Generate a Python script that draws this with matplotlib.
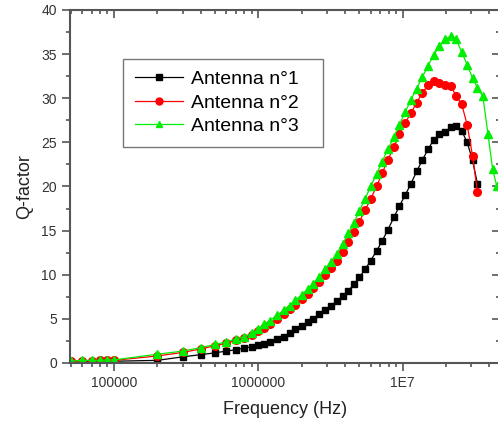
import matplotlib
matplotlib.use('Agg')
import matplotlib.pyplot as plt
from matplotlib.ticker import FixedLocator, FuncFormatter, MultipleLocator, LogLocator, NullFormatter

plt.rcParams['font.family'] = ['Liberation Sans', 'DejaVu Sans']

# Frequencies (Hz) of the measured points
freq = [5e4, 6e4, 7e4, 8e4, 9e4, 1e5, 2e5, 3e5, 4e5, 5e5, 6e5, 7e5, 8e5, 9e5,
        1.0e6, 1.1e6, 1.2e6, 1.35e6, 1.5e6, 1.65e6, 1.8e6, 2.0e6, 2.2e6, 2.4e6,
        2.65e6, 2.9e6, 3.2e6, 3.5e6, 3.85e6, 4.2e6, 4.6e6, 5.0e6, 5.5e6, 6.0e6,
        6.6e6, 7.2e6, 7.9e6, 8.7e6, 9.5e6, 10.4e6, 11.4e6, 12.5e6, 13.7e6, 15.0e6,
        16.4e6, 18.0e6, 19.7e6, 21.5e6, 23.5e6, 25.7e6, 28.0e6, 30.5e6, 33.0e6,
        36.0e6, 39.0e6, 42.0e6, 45.0e6]

q_ant1 = [0.1, 0.15, 0.15, 0.2, 0.2, 0.2, 0.3, 0.7, 0.95, 1.15, 1.35, 1.5, 1.7, 1.85,
          2.0, 2.2, 2.4, 2.7, 3.0, 3.4, 3.8, 4.2, 4.6, 5.0, 5.5, 6.0, 6.5, 7.0, 7.6,
          8.2, 8.9, 9.7, 10.6, 11.6, 12.7, 13.8, 15.1, 16.5, 17.8, 19.0, 20.3, 21.7,
          23.0, 24.2, 25.3, 25.9, 26.2, 26.7, 26.9, 26.3, 25.0, 23.0, 20.3]

q_ant2 = [0.2, 0.25, 0.25, 0.3, 0.3, 0.3, 0.8, 1.2, 1.6, 1.95, 2.25, 2.55, 2.85, 3.2,
          3.6, 4.0, 4.4, 5.0, 5.5, 6.1, 6.6, 7.2, 7.8, 8.5, 9.2, 10.0, 10.8, 11.6, 12.6,
          13.7, 14.8, 16.0, 17.3, 18.6, 20.0, 21.5, 23.0, 24.5, 25.9, 27.2, 28.3, 29.5,
          30.6, 31.5, 32.0, 31.7, 31.5, 31.4, 30.3, 29.3, 27.0, 23.5, 19.4]

q_ant3 = [0.2, 0.3, 0.3, 0.3, 0.35, 0.35, 1.0, 1.35, 1.75, 2.1, 2.4, 2.7, 3.0, 3.35,
          3.8, 4.4, 4.8, 5.4, 6.0, 6.5, 7.1, 7.7, 8.4, 9.0, 9.8, 10.6, 11.5, 12.4, 13.5,
          14.7, 15.9, 17.2, 18.6, 20.0, 21.4, 22.8, 24.2, 25.6, 27.0, 28.4, 29.8, 31.1,
          32.4, 33.7, 34.9, 35.9, 36.7, 37.0, 36.7, 35.2, 33.8, 32.3, 31.2, 30.2, 26.0,
          22.0, 20.0]

labels = ['Antenna n°1', 'Antenna n°2', 'Antenna n°3']

fig = plt.figure(figsize=(4.98, 4.30), dpi=100)
ax = fig.add_axes([70 / 498, 67 / 430, 430 / 498, 353 / 430])

ax.plot(freq[:len(q_ant1)], q_ant1, color='black', marker='s', markersize=4.8,
        linewidth=0.9, label=labels[0])
ax.plot(freq[:len(q_ant2)], q_ant2, color='#ff0000', marker='o', markersize=5.5,
        linewidth=0.9, label=labels[1])
ax.plot(freq[:len(q_ant3)], q_ant3, color='#00ee00', marker='^', markersize=6,
        linewidth=0.9, label=labels[2])

ax.set_xscale('log')
ax.set_xlim(4.95e4, 4.73e7)
ax.set_ylim(0, 40)

ax.xaxis.set_major_locator(FixedLocator([1e5, 1e6, 1e7]))
ax.xaxis.set_major_formatter(FuncFormatter(lambda v, p: {1e5: '100000', 1e6: '1000000', 1e7: '1E7'}.get(v, '')))
ax.xaxis.set_minor_locator(LogLocator(base=10, subs=range(2, 10), numticks=20))
ax.xaxis.set_minor_formatter(NullFormatter())
ax.yaxis.set_major_locator(MultipleLocator(5))
ax.yaxis.set_minor_locator(MultipleLocator(2.5))

spine_col = '#555555'
for s in ax.spines.values():
    s.set_color(spine_col)
    s.set_linewidth(1.5)

ax.tick_params(which='both', direction='out', colors=spine_col, labelcolor='#333333',
               labelsize=10, width=1.2)
ax.tick_params(which='major', length=6)
ax.tick_params(which='minor', length=3)
ax.tick_params(which='both', top=True, right=True)
# inward ticks on the top and right spines
for t in ax.xaxis.get_major_ticks() + ax.xaxis.get_minor_ticks():
    t.tick2line.set_marker(3)
for t in ax.yaxis.get_major_ticks() + ax.yaxis.get_minor_ticks():
    t.tick2line.set_marker(0)

ax.set_xlabel('Frequency (Hz)', fontsize=13, color='#222222', labelpad=8)
ax.set_ylabel('Q-factor', fontsize=13, color='#222222', labelpad=6)

# legend box spans x 123..323, top at y 59 (figure pixels)
leg = ax.legend(loc='upper left', bbox_to_anchor=(53 / 430, 1 - 49 / 353 - 0.01, 200 / 430, 0.01),
                mode='expand', borderaxespad=0,
                fontsize=14, frameon=True, fancybox=False, edgecolor='#555555',
                handlelength=2.5, borderpad=0.6, labelspacing=0.3, handletextpad=0.4)
leg.get_frame().set_linewidth(1.0)
for h in leg.legend_handles:
    h.set_markersize(5)

plt.savefig('out.png', dpi=100)
